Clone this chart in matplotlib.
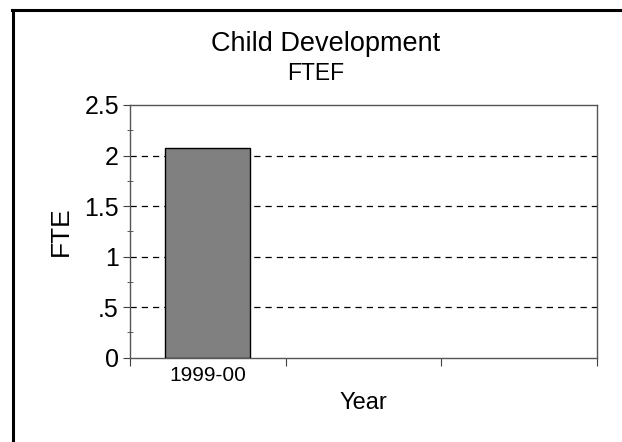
import matplotlib
matplotlib.use("Agg")
import matplotlib.pyplot as plt
from matplotlib.lines import Line2D
from matplotlib.ticker import MultipleLocator

plt.rcParams["font.family"] = ["Liberation Sans", "DejaVu Sans"]

# datos
anios = ["1999-00"]
fte = [2.07]
n_slots = 3
ytick_vals = [0, 0.5, 1, 1.5, 2, 2.5]
ytick_labels = ["0", ".5", "1", "1.5", "2", "2.5"]

fig = plt.figure(figsize=(6.22, 4.42), dpi=100)
ax = fig.add_axes([130/622, 1-357.6/442, (597-130)/622, (357.6-105)/442])

x = [i + 0.5 for i in range(len(anios))]
ax.bar(x, fte, width=0.546, color="#808080", edgecolor="black", linewidth=1, zorder=3)

ax.set_xlim(0, n_slots)
ax.set_ylim(0, 2.5)
ax.set_xticks(range(n_slots + 1))
ax.set_xticklabels([])
ax.set_xticks(x, minor=True)
ax.set_xticklabels(anios, minor=True, fontsize=15)
ax.tick_params(axis="x", which="major", direction="out", length=6, color="#404040")
ax.tick_params(axis="x", which="minor", length=0, pad=6)

ax.set_yticks(ytick_vals)
ax.set_yticklabels(ytick_labels, fontsize=18)
ax.yaxis.set_minor_locator(MultipleLocator(0.25))
ax.tick_params(axis="y", which="major", direction="out", length=5, color="#404040", pad=3)
ax.tick_params(axis="y", which="minor", direction="inout", length=4, color="#404040")

for v in ytick_vals[1:-1]:
    ax.axhline(v, color="black", linestyle=(0, (5, 4)), linewidth=0.9, zorder=1)

for s in ax.spines.values():
    s.set_color("#555555")
    s.set_linewidth(1)

ax.set_ylabel("FTE", fontsize=19, labelpad=8)
ax.set_xlabel("Year", fontsize=17, labelpad=5)

fig.text(326/622, 1-44/442, "Child Development", ha="center", va="center", fontsize=19.5)
fig.text(316/622, 1-73/442, "FTEF", ha="center", va="center", fontsize=16.5)

# marco
fig.add_artist(Line2D([12/622, 1.0], [1-9.5/442, 1-9.5/442], color="black", linewidth=2.2))
fig.add_artist(Line2D([12.5/622, 12.5/622], [0, 1-9.5/442], color="black", linewidth=2.2))

plt.savefig("out.png")
